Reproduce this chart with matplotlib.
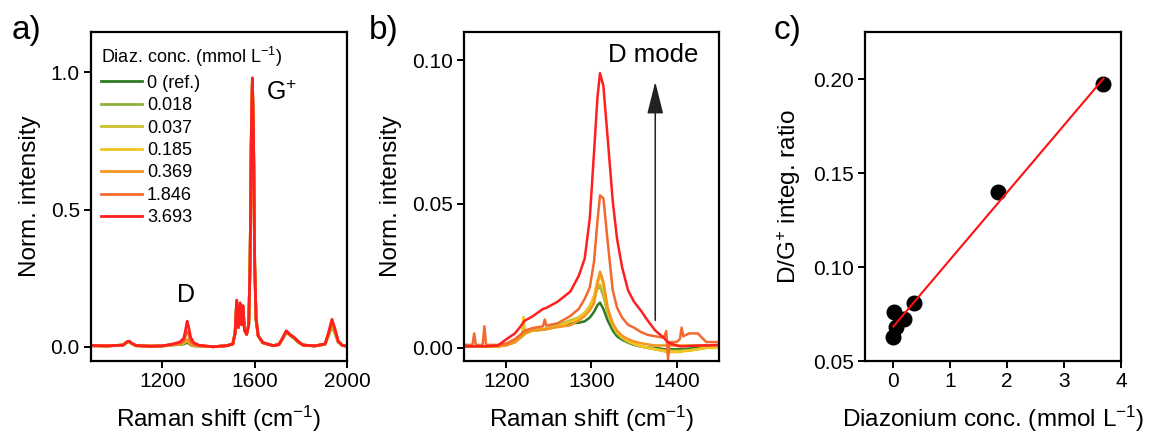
import numpy as np
import matplotlib
matplotlib.use('Agg')
import matplotlib.pyplot as plt

plt.rcParams['font.family'] = ['Liberation Sans', 'DejaVu Sans']
plt.rcParams['mathtext.fontset'] = 'custom'
plt.rcParams['mathtext.rm'] = 'Liberation Sans'
plt.rcParams['mathtext.it'] = 'Liberation Sans:italic'
plt.rcParams['mathtext.bf'] = 'Liberation Sans:bold'

# concentrations and colours
conc_labels = ['0 (ref.)', '0.018', '0.037', '0.185', '0.369', '1.846', '3.693']
colors = ['#2e7a22', '#8db23a', '#c9c22e', '#f4c422', '#f7941e', '#f36a30', '#ff1f1f']

# panel a: full spectra (Raman shift, norm. intensity)
a_x = [890, 960, 1030, 1045, 1055, 1068, 1085, 1150, 1200, 1240, 1275, 1292, 1300, 1307,
       1314, 1322, 1335, 1360, 1420, 1480, 1505, 1515, 1522, 1529, 1537, 1543, 1549, 1556,
       1565, 1574, 1580, 1585, 1590, 1595, 1600, 1606, 1615, 1635, 1680, 1705, 1720, 1737,
       1752, 1772, 1790, 1810, 1860, 1905, 1920, 1935, 1948, 1962, 1980, 2000]
a_y = [
    [0.004, 0.003, 0.006, 0.016, 0.019, 0.011, 0.004, 0.002, 0.003, 0.006, 0.008, 0.01, 0.013, 0.016,
     0.012, 0.007, 0.003, 0.003, 0.0, 0.004, 0.01, 0.05, 0.165, 0.07, 0.155, 0.08, 0.145, 0.06,
     0.045, 0.08, 0.3, 0.74, 0.97, 0.74, 0.3, 0.1, 0.04, 0.015, 0.004, 0.008, 0.028, 0.052,
     0.042, 0.03, 0.016, 0.006, 0.003, 0.009, 0.04, 0.075, 0.05, 0.017, 0.005, 0.002],
    [0.004, 0.003, 0.006, 0.016, 0.019, 0.011, 0.004, 0.002, 0.003, 0.007, 0.01, 0.013, 0.018, 0.021,
     0.016, 0.009, 0.004, 0.003, 0.0, 0.004, 0.01, 0.05, 0.165, 0.07, 0.155, 0.08, 0.145, 0.06,
     0.045, 0.08, 0.3, 0.74, 0.97, 0.74, 0.3, 0.1, 0.04, 0.015, 0.004, 0.008, 0.028, 0.053,
     0.043, 0.031, 0.016, 0.006, 0.003, 0.009, 0.04, 0.078, 0.052, 0.018, 0.005, 0.002],
    [0.004, 0.003, 0.006, 0.016, 0.019, 0.011, 0.004, 0.002, 0.003, 0.007, 0.01, 0.013, 0.018, 0.022,
     0.017, 0.009, 0.004, 0.003, 0.0, 0.004, 0.01, 0.05, 0.165, 0.07, 0.155, 0.08, 0.145, 0.06,
     0.045, 0.08, 0.3, 0.74, 0.97, 0.74, 0.3, 0.1, 0.04, 0.015, 0.004, 0.008, 0.028, 0.054,
     0.043, 0.031, 0.017, 0.006, 0.003, 0.009, 0.042, 0.08, 0.053, 0.018, 0.005, 0.002],
    [0.004, 0.003, 0.006, 0.017, 0.019, 0.011, 0.004, 0.002, 0.003, 0.007, 0.01, 0.014, 0.02, 0.025,
     0.019, 0.01, 0.005, 0.003, 0.0, 0.004, 0.01, 0.05, 0.165, 0.07, 0.155, 0.08, 0.145, 0.06,
     0.045, 0.08, 0.3, 0.74, 0.97, 0.74, 0.3, 0.1, 0.04, 0.015, 0.004, 0.008, 0.029, 0.055,
     0.044, 0.032, 0.017, 0.006, 0.003, 0.009, 0.044, 0.085, 0.056, 0.018, 0.005, 0.002],
    [0.004, 0.003, 0.006, 0.017, 0.02, 0.012, 0.004, 0.002, 0.003, 0.007, 0.01, 0.015, 0.022, 0.027,
     0.02, 0.01, 0.005, 0.003, 0.0, 0.004, 0.01, 0.05, 0.165, 0.07, 0.155, 0.08, 0.145, 0.06,
     0.045, 0.08, 0.3, 0.74, 0.97, 0.74, 0.3, 0.1, 0.04, 0.015, 0.004, 0.008, 0.029, 0.056,
     0.044, 0.032, 0.017, 0.006, 0.003, 0.009, 0.045, 0.087, 0.057, 0.019, 0.005, 0.002],
    [0.004, 0.003, 0.006, 0.017, 0.02, 0.012, 0.004, 0.002, 0.003, 0.008, 0.012, 0.022, 0.04, 0.054,
     0.045, 0.02, 0.008, 0.004, 0.0, 0.004, 0.01, 0.05, 0.168, 0.07, 0.158, 0.08, 0.148, 0.06,
     0.045, 0.08, 0.3, 0.75, 0.975, 0.75, 0.3, 0.1, 0.04, 0.015, 0.004, 0.008, 0.03, 0.057,
     0.045, 0.033, 0.018, 0.006, 0.003, 0.01, 0.048, 0.094, 0.062, 0.02, 0.005, 0.002],
    [0.004, 0.003, 0.006, 0.017, 0.02, 0.012, 0.004, 0.002, 0.003, 0.009, 0.017, 0.03, 0.06, 0.093,
     0.07, 0.035, 0.015, 0.005, 0.0, 0.004, 0.01, 0.05, 0.17, 0.07, 0.16, 0.08, 0.15, 0.06,
     0.045, 0.08, 0.3, 0.76, 0.98, 0.76, 0.3, 0.1, 0.04, 0.015, 0.004, 0.008, 0.03, 0.058,
     0.045, 0.033, 0.018, 0.006, 0.003, 0.01, 0.05, 0.1, 0.065, 0.02, 0.005, 0.002],
]

# panel b: D mode region
b_x = [1150, 1160, 1162, 1164, 1172, 1174, 1176, 1190, 1200, 1210, 1218, 1220, 1222, 1230,
       1243, 1245, 1247, 1260, 1275, 1285, 1292, 1298, 1303, 1307, 1310, 1314, 1319, 1325,
       1330, 1336, 1343, 1350, 1358, 1366, 1375, 1385, 1388, 1390, 1392, 1400, 1404, 1406,
       1408, 1415, 1425, 1435, 1450]
b_y = [
    [0.0005, 0.0005, 0.0005, 0.0005, 0.0005, 0.0005, 0.0005, 0.0005, 0.001, 0.002, 0.004, 0.0045, 0.005, 0.006,
     0.0063, 0.0064, 0.0065, 0.0075, 0.0085, 0.0087, 0.0092, 0.0105, 0.0125, 0.0148, 0.0157, 0.0135, 0.0095, 0.006,
     0.004, 0.0028, 0.0018, 0.001, 0.0005, 0.0, 0.0, -0.0005, -0.0005, -0.0005, -0.0005, -0.0005, -0.0005, -0.0005,
     -0.0005, -0.0003, 0.0, 0.0, 0.0],
    [0.0005, 0.0005, 0.0005, 0.0005, 0.0005, 0.0005, 0.0005, 0.0005, 0.001, 0.002, 0.004, 0.0045, 0.005, 0.006,
     0.0065, 0.0066, 0.0067, 0.0078, 0.0095, 0.0105, 0.012, 0.0142, 0.0175, 0.0205, 0.0213, 0.018, 0.012, 0.0075,
     0.005, 0.0033, 0.002, 0.0012, 0.0005, 0.0, -0.0005, -0.001, -0.001, -0.001, -0.001, -0.001, -0.001, -0.001,
     -0.001, -0.0008, -0.0005, 0.0, 0.0],
    [0.0005, 0.0005, 0.0005, 0.0005, 0.0005, 0.0005, 0.0005, 0.0005, 0.001, 0.002, 0.004, 0.0045, 0.005, 0.006,
     0.0064, 0.0065, 0.0066, 0.0076, 0.0093, 0.0105, 0.0122, 0.0145, 0.018, 0.021, 0.022, 0.019, 0.0125, 0.0078,
     0.0052, 0.0035, 0.0022, 0.0013, 0.0005, 0.0, -0.0005, -0.001, -0.001, -0.0012, -0.0012, -0.0012, -0.0012, -0.0012,
     -0.001, -0.001, -0.0005, 0.0, 0.0],
    [0.0005, 0.0005, 0.0005, 0.0005, 0.0005, 0.0005, 0.0005, 0.0005, 0.001, 0.002, 0.004, 0.0107, 0.005, 0.006,
     0.0063, 0.0064, 0.0065, 0.0074, 0.009, 0.0103, 0.0118, 0.014, 0.018, 0.0235, 0.0255, 0.022, 0.0135, 0.0082,
     0.0055, 0.0038, 0.0024, 0.0014, 0.0006, 0.0, -0.0005, -0.0012, -0.0015, -0.0015, -0.0015, -0.0015, -0.0015, -0.0015,
     -0.0012, -0.001, -0.0005, 0.0, 0.0],
    [0.0005, 0.0005, 0.0005, 0.0005, 0.0005, 0.0005, 0.0005, 0.0005, 0.0008, 0.002, 0.004, 0.0045, 0.005, 0.006,
     0.0063, 0.0064, 0.0065, 0.0072, 0.0078, 0.0095, 0.011, 0.013, 0.0155, 0.022, 0.0265, 0.023, 0.014, 0.0085,
     0.006, 0.0042, 0.003, 0.0022, 0.0016, 0.0012, 0.0008, 0.0008, 0.0008, 0.0008, 0.0008, 0.0008, 0.0008, 0.0008,
     0.0008, 0.0008, 0.0008, 0.0008, 0.0008],
    [0.001, 0.001, 0.005, 0.001, 0.001, 0.0075, 0.001, 0.001, 0.0015, 0.003, 0.005, 0.0055, 0.006, 0.0068,
     0.0075, 0.0098, 0.0077, 0.0085, 0.011, 0.0135, 0.017, 0.021, 0.03, 0.044, 0.053, 0.052, 0.037, 0.02,
     0.014, 0.0105, 0.008, 0.007, 0.0055, 0.0045, 0.004, 0.0035, 0.0058, -0.004, 0.002, 0.002, 0.003, 0.007,
     0.004, 0.005, 0.005, 0.002, 0.002],
    [0.0005, 0.0005, 0.0005, 0.0005, 0.0005, 0.0005, 0.0005, 0.0008, 0.003, 0.005, 0.008, 0.009, 0.0095, 0.0108,
     0.0135, 0.0137, 0.0139, 0.016, 0.0195, 0.025, 0.031, 0.045, 0.068, 0.087, 0.0955, 0.091, 0.073, 0.051,
     0.038, 0.028, 0.02, 0.016, 0.013, 0.0095, 0.006, 0.0035, 0.0025, 0.002, 0.0016, 0.0008, 0.0005, 0.0005,
     0.0005, 0.0006, 0.0008, 0.0008, 0.001],
]

# panel c: D/G+ integrated ratio vs diazonium concentration
c_conc = [0.0, 0.018, 0.037, 0.185, 0.369, 1.846, 3.693]
c_ratio = [0.063, 0.076, 0.068, 0.0725, 0.081, 0.140, 0.1975]

fig = plt.figure(figsize=(11.53, 4.36), dpi=100)
ax_a = fig.add_axes([0.0789, 0.172, 0.222, 0.7546])
ax_b = fig.add_axes([0.4024, 0.172, 0.2212, 0.7546])
ax_c = fig.add_axes([0.7502, 0.172, 0.222, 0.7546])

for ax in (ax_a, ax_b, ax_c):
    for s in ax.spines.values():
        s.set_linewidth(1.6)
    ax.tick_params(direction='out', length=5, width=1.4, labelsize=15, pad=3)

lab_fs = 17.5

# a)
for y, c, lab in zip(a_y, colors, conc_labels):
    ax_a.plot(a_x, y, color=c, lw=2.0, label=lab)
ax_a.set_xlim(890, 2000)
ax_a.set_ylim(-0.052, 1.147)
ax_a.set_xticks([1200, 1600, 2000])
ax_a.set_yticks([0.0, 0.5, 1.0])
ax_a.set_yticklabels(['0.0', '0.5', '1.0'])
ax_a.set_xlabel('Raman shift (cm$^{-1}$)', fontsize=lab_fs, labelpad=9)
ax_a.set_ylabel('Norm. intensity', fontsize=lab_fs, labelpad=7)
ax_a.text(1304, 0.19, 'D', fontsize=18, ha='center', va='center')
ax_a.text(1648, 0.925, 'G$^{+}$', fontsize=18, ha='left', va='center')
leg = ax_a.legend(title='Diaz. conc. (mmol L$^{-1}$)', loc='upper left', frameon=False,
                  bbox_to_anchor=(0.0, 0.99),
                  fontsize=13, title_fontsize=13, handlelength=2.3, handletextpad=0.25,
                  labelspacing=0.3, alignment='left', borderaxespad=0.25,
                  borderpad=0.3)

# b)
for y, c in zip(b_y, colors):
    ax_b.plot(b_x, y, color=c, lw=1.8)
ax_b.set_xlim(1150, 1450)
ax_b.set_ylim(-0.0046, 0.1098)
ax_b.set_xticks([1200, 1300, 1400])
ax_b.set_yticks([0.0, 0.05, 0.10])
ax_b.set_yticklabels(['0.00', '0.05', '0.10'])
ax_b.set_xlabel('Raman shift (cm$^{-1}$)', fontsize=lab_fs, labelpad=9)
ax_b.set_ylabel('Norm. intensity', fontsize=lab_fs, labelpad=7)
ax_b.text(1320, 0.1017, 'D mode', fontsize=18.5, ha='left', va='center')
ax_b.annotate('', xy=(1375, 0.0925), xytext=(1375, 0.0095),
              arrowprops=dict(arrowstyle='-|>,head_length=0.8,head_width=0.2', color='#222222',
                              lw=1.1, mutation_scale=25, shrinkA=0, shrinkB=0))

# c)
fit = np.polyfit(c_conc, c_ratio, 1)
xfit = np.array([min(c_conc), max(c_conc)])
ax_c.plot(c_conc, c_ratio, 'o', color='k', ms=10.5, zorder=2)
ax_c.plot(xfit, np.polyval(fit, xfit), color='#ff1010', lw=1.5, zorder=3)
ax_c.set_xlim(-0.5, 4)
ax_c.set_ylim(0.05, 0.225)
ax_c.set_xticks([0, 1, 2, 3, 4])
ax_c.set_yticks([0.05, 0.10, 0.15, 0.20])
ax_c.set_yticklabels(['0.05', '0.10', '0.15', '0.20'])
ax_c.set_xlabel('Diazonium conc. (mmol L$^{-1}$)', fontsize=lab_fs, labelpad=9)
ax_c.set_ylabel('D/G$^{+}$ integ. ratio', fontsize=lab_fs, labelpad=7)

fig.text(12 / 1153, 1 - 31 / 436, 'a)', fontsize=24, ha='left', va='center')
fig.text(369 / 1153, 1 - 31 / 436, 'b)', fontsize=24, ha='left', va='center')
fig.text(774 / 1153, 1 - 31 / 436, 'c)', fontsize=24, ha='left', va='center')

fig.savefig('out.png', dpi=100)
